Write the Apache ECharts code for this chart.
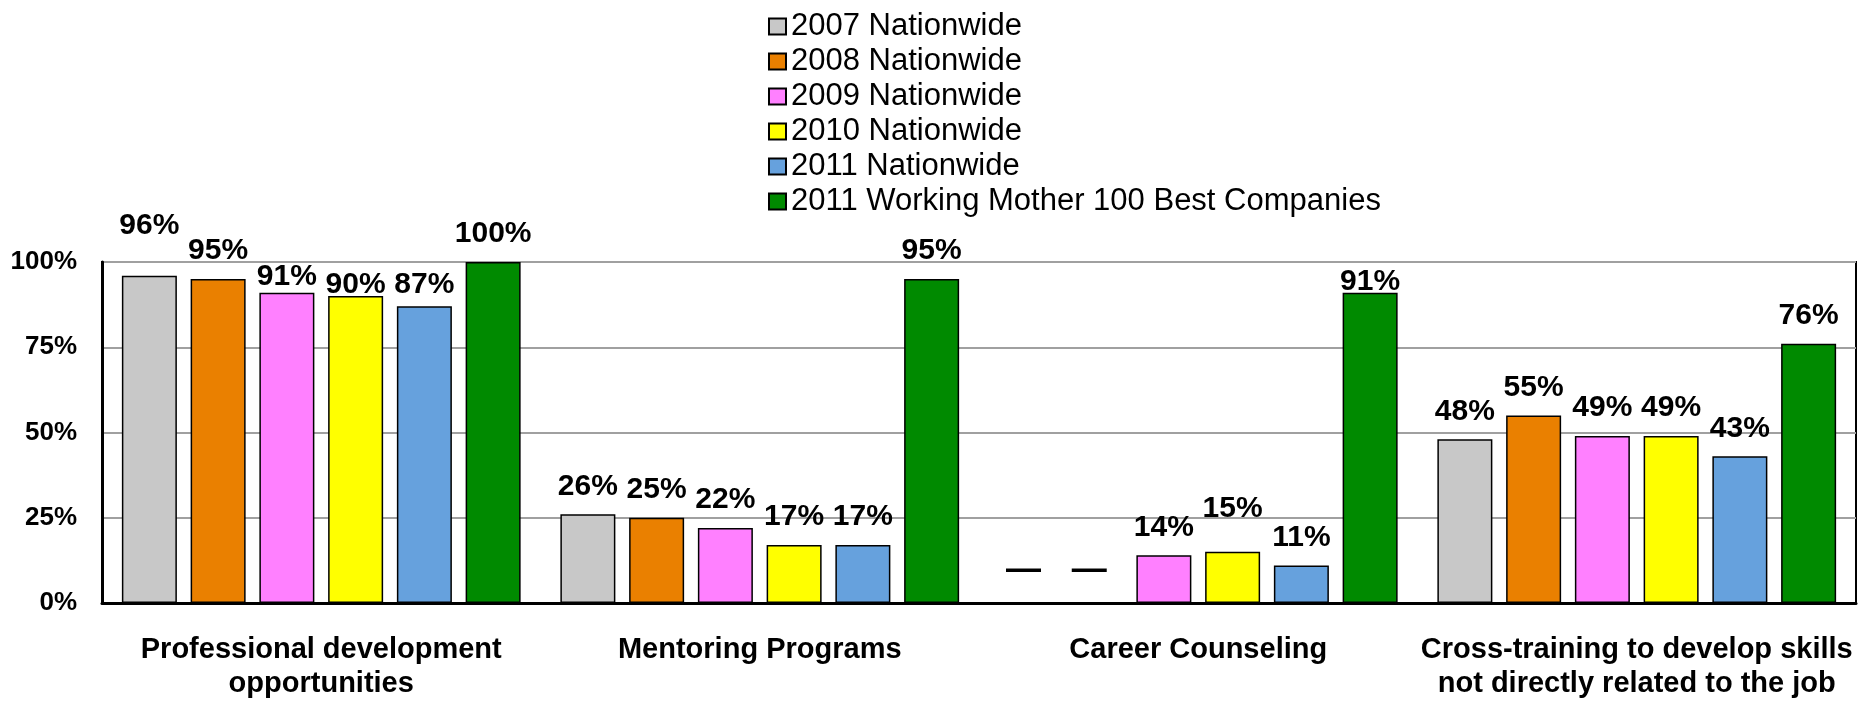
<!DOCTYPE html>
<html>
<head>
<meta charset="utf-8">
<script src="https://cdn.jsdelivr.net/npm/echarts@6/dist/echarts.min.js"></script>
<style>
  html, body { margin: 0; padding: 0; background: #fff; }
  #chart { width: 1858px; height: 701px; }
</style>
</head>
<body>
<div id="chart"></div>
<script>
const categories = [
  'Professional development\nopportunities',
  'Mentoring Programs',
  'Career Counseling',
  'Cross-training to develop skills\nnot directly related to the job'
]
const seriesNames = [
  '2007 Nationwide',
  '2008 Nationwide',
  '2009 Nationwide',
  '2010 Nationwide',
  '2011 Nationwide',
  '2011 Working Mother 100 Best Companies'
]
// null = not asked that year (drawn as a dash)
const nw2007 = [96, 26, null, 48]
const nw2008 = [95, 25, null, 55]
const nw2009 = [91, 22, 14, 49]
const nw2010 = [90, 17, 15, 49]
const nw2011 = [87, 17, 11, 43]
const wm2011 = [100, 95, 91, 76]
const yTicks = [0, 25, 50, 75, 100]

const colors = ['#C8C8C8', '#EA8000', '#FF80FF', '#FFFF00', '#66A1DD', '#008A00']

// hand-placed labels in the original, vertical nudge in px
const labelNudge = {
  '0-0': -22, '2-0': 12, '3-0': 17, '4-0': 6,
  '3-2': -15, '5-2': 17
}

const font = '"Liberation Sans", Arial, sans-serif'

function buildData(values, s) {
  return values.map((v, i) => {
    if (v === null) {
      return {
        value: 0,
        itemStyle: { color: 'transparent', borderWidth: 0 },
        label: { formatter: '\u2014', fontSize: 35, offset: [-3 - 3 * s, -2] }
      }
    }
    const dy = labelNudge[s + '-' + i]
    return dy ? { value: v, label: { offset: [0, dy] } } : v
  })
}

const allValues = [nw2007, nw2008, nw2009, nw2010, nw2011, wm2011]

const chart = echarts.init(document.getElementById('chart'))
chart.setOption({
  animation: false,
  textStyle: { fontFamily: font },
  legend: {
    orient: 'vertical',
    left: 763,
    top: 6,
    icon: 'rect',
    itemWidth: 17,
    itemHeight: 16,
    itemGap: 4,
    data: seriesNames,
    textStyle: { fontSize: 31, lineHeight: 30, color: '#000', fontFamily: font }
  },
  grid: {
    left: 102,
    right: 2,
    top: 262,
    bottom: 93,
    show: true,
    borderColor: '#000',
    borderWidth: 2
  },
  xAxis: {
    type: 'category',
    data: categories,
    axisTick: { show: false },
    axisLine: { lineStyle: { color: '#000', width: 3 } },
    axisLabel: {
      interval: 0,
      margin: 30,
      fontSize: 29,
      lineHeight: 34,
      fontWeight: 'bold',
      color: '#000',
      fontFamily: font
    }
  },
  yAxis: {
    type: 'value',
    min: yTicks[0],
    max: yTicks[yTicks.length - 1],
    interval: 25,
    axisLine: { show: true, lineStyle: { color: '#000', width: 3 } },
    axisTick: { show: false },
    axisLabel: {
      formatter: '{value}%',
      fontSize: 26,
      fontWeight: 'bold',
      color: '#000',
      margin: 25,
      fontFamily: font
    },
    splitLine: { lineStyle: { color: '#A0A0A0', width: 2 } }
  },
  series: seriesNames.map((name, s) => ({
    name: name,
    type: 'bar',
    barWidth: 55,
    barGap: '25%',
    itemStyle: { color: colors[s], borderColor: '#000', borderWidth: 1.5 },
    label: {
      show: true,
      position: 'top',
      distance: 13,
      formatter: '{c}%',
      fontSize: 30,
      fontWeight: 'bold',
      color: '#000',
      fontFamily: font
    },
    data: buildData(allValues[s], s)
  }))
})
</script>
</body>
</html>
